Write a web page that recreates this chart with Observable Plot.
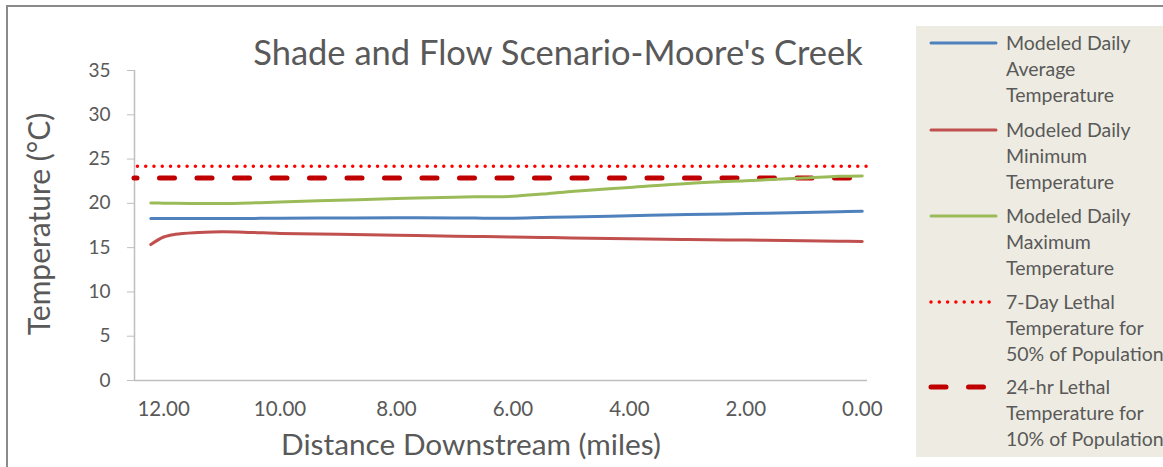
<!DOCTYPE html>
<html><head><meta charset="utf-8">
<script src="https://cdn.jsdelivr.net/npm/d3@7"></script>
<script src="https://cdn.jsdelivr.net/npm/@observablehq/plot@0.6"></script>
<style>
html,body{margin:0;padding:0;background:#fff;overflow:hidden}
#wrap{position:relative;width:1163px;height:467px;overflow:hidden;font-family:Lato,sans-serif}
#frame{position:absolute;left:6px;top:5px;width:1200px;height:500px;border:2px solid #8a8a8a;box-sizing:border-box}
#chart{position:absolute;left:0;top:0}
#overlay{position:absolute;left:0;top:0}
</style></head><body>
<div id="wrap"><div id="frame"></div><div id="chart"></div><svg id="overlay" width="1163" height="467"></svg></div>
<script>
const chartTitle = "Shade and Flow Scenario-Moore's Creek";
const xTitle = "Distance Downstream (miles)";
const yTitle = "Temperature (°C)";

const miles   = [12.22, 12.0, 11.8, 11.4, 11.0, 10.5, 10.0, 9.0, 8.0, 7.0, 6.5, 6.0, 5.5, 5.0, 4.0, 3.0, 2.0, 1.0, 0.4, 0.0];
const avgTemp = [18.30, 18.30, 18.30, 18.30, 18.30, 18.30, 18.32, 18.35, 18.37, 18.35, 18.33, 18.33, 18.40, 18.47, 18.60, 18.73, 18.85, 18.97, 19.05, 19.10];
const minTemp = [15.35, 16.20, 16.50, 16.70, 16.80, 16.72, 16.60, 16.50, 16.40, 16.30, 16.25, 16.20, 16.15, 16.10, 16.00, 15.92, 15.85, 15.78, 15.72, 15.70];
const maxTemp = [20.05, 20.02, 20.00, 19.98, 19.98, 20.05, 20.15, 20.35, 20.55, 20.70, 20.75, 20.80, 21.05, 21.35, 21.80, 22.25, 22.55, 22.85, 23.05, 23.10];
const lethal7Day = 24.2;
const lethal24hr = 22.85;

const xTicks = [12, 10, 8, 6, 4, 2, 0];
const yTicks = [0, 5, 10, 15, 20, 25, 30, 35];

const legendLabels = [
  ["Modeled Daily", "Average", "Temperature"],
  ["Modeled Daily", "Minimum", "Temperature"],
  ["Modeled Daily", "Maximum", "Temperature"],
  ["7-Day Lethal", "Temperature for", "50% of Population"],
  ["24-hr Lethal", "Temperature for", "10% of Population"]
];
const seriesColors = ["#4F81BD", "#C0504D", "#9BBB59", "#FF0000", "#C00000"];

const rows = (vals) => miles.map((m, i) => ({miles: m, temp: vals[i]}));
const textColor = "#595959";
const axisColor = "#BFBFBF";

const chart = Plot.plot({
  width: 1163, height: 467,
  marginLeft: 134, marginRight: 296, marginTop: 70, marginBottom: 87,
  style: {fontFamily: "Lato, sans-serif", background: "transparent", color: textColor},
  x: {domain: [12.5, -0.09]},
  y: {domain: [0, 35]},
  marks: [
    Plot.ruleY([0], {stroke: axisColor, strokeWidth: 1.5}),
    Plot.ruleX([12.5], {stroke: axisColor, strokeWidth: 1.5}),
    Plot.axisY({ticks: yTicks, tickSize: 7, tickPadding: 17, fontSize: 19, label: null, stroke: axisColor, fill: textColor}),
    Plot.axisX({ticks: xTicks, tickSize: 0, tickPadding: 21, fontSize: 20.5, label: null, tickFormat: d3.format(".2f"), fill: textColor}),
    Plot.ruleY([lethal7Day], {stroke: seriesColors[3], strokeWidth: 3.5, strokeDasharray: "0,8.28", strokeDashoffset: 4.86, strokeLinecap: "round"}),
    Plot.ruleY([lethal24hr], {stroke: seriesColors[4], strokeWidth: 5, strokeDasharray: "15,22.5", strokeDashoffset: 12, strokeLinecap: "round"}),
    Plot.line(rows(maxTemp), {x: "miles", y: "temp", stroke: seriesColors[2], strokeWidth: 3, curve: "catmull-rom"}),
    Plot.line(rows(avgTemp), {x: "miles", y: "temp", stroke: seriesColors[0], strokeWidth: 3, curve: "catmull-rom"}),
    Plot.line(rows(minTemp), {x: "miles", y: "temp", stroke: seriesColors[1], strokeWidth: 3, curve: "catmull-rom"})
  ]
});
document.getElementById("chart").appendChild(chart);

// Overlay: titles and legend
const ov = d3.select("#overlay").style("font-family", "Lato, sans-serif");
ov.append("text").attr("x", 558).attr("y", 65).attr("text-anchor", "middle")
  .attr("font-size", 34.5).attr("fill", textColor).text(chartTitle);
ov.append("text").attr("x", 471).attr("y", 455).attr("text-anchor", "middle")
  .attr("font-size", 29.8).attr("fill", textColor).text(xTitle);
ov.append("text").attr("transform", "translate(50,224) rotate(-90)").attr("text-anchor", "middle")
  .attr("font-size", 30).attr("fill", textColor).text(yTitle);

ov.append("rect").attr("x", 916).attr("y", 26).attr("width", 260).attr("height", 431).attr("fill", "#EEECE2");
const entryY = [43, 130, 216, 302, 387];
const lineH = 26;
legendLabels.forEach((lines, i) => {
  const y = entryY[i];
  const l = ov.append("line").attr("x1", 931).attr("x2", 996).attr("y1", y).attr("y2", y)
    .attr("stroke", seriesColors[i]).attr("stroke-linecap", "round");
  if (i < 3) l.attr("stroke-width", 3);
  else if (i === 3) l.attr("stroke-width", 3.5).attr("stroke-dasharray", "0,8.3");
  else l.attr("x1", 931).attr("x2", 984).attr("stroke-width", 5).attr("stroke-dasharray", "15,22.5");
  lines.forEach((t, j) => {
    ov.append("text").attr("x", 1006).attr("y", y + 7 + j * lineH)
      .attr("font-size", 19.5).attr("fill", textColor).text(t);
  });
});
</script>
</body></html>
